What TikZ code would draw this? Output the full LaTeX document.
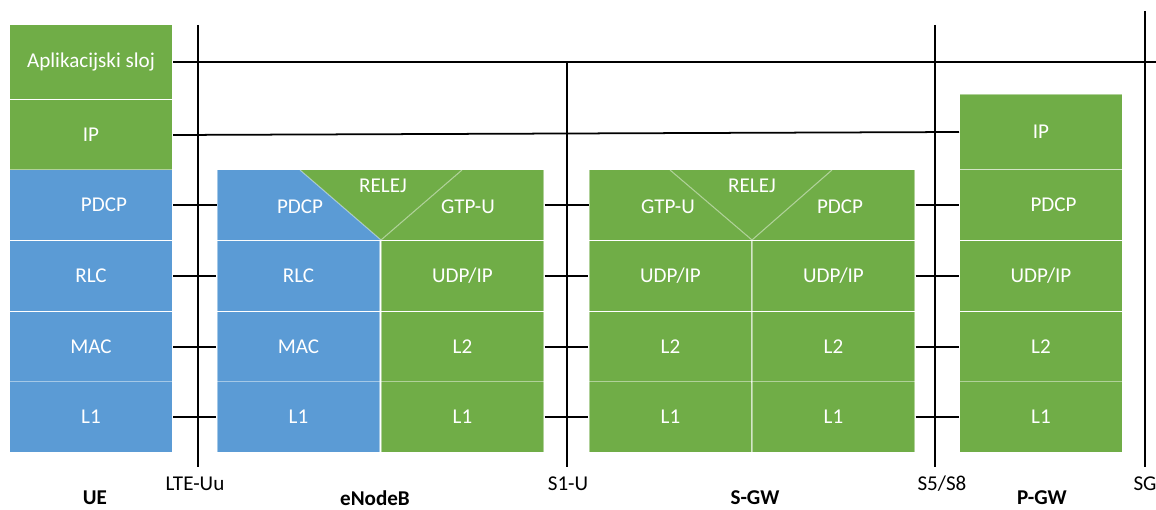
\documentclass[tikz,border=0pt]{standalone}
\usepackage{fontspec}
\setmainfont{Carlito}
\usepackage{tikz}
\usetikzlibrary{calc,positioning}

\definecolor{lteblue}{RGB}{91,155,213}
\definecolor{ltegreen}{RGB}{112,173,71}

\begin{document}
\begin{tikzpicture}[
    x=0.02cm, y=-0.02cm,
    font=\fontsize{12}{14}\selectfont,
    cell/.style={rectangle, minimum width=3.26cm, minimum height=1.41cm,
                 inner sep=0pt, text=white, draw=white, draw opacity=0.45,
                 line width=0.6pt},
    ueCell/.style={cell, fill=lteblue},
    gwCell/.style={cell, fill=ltegreen},
    cellEdge/.style={draw=white, draw opacity=0.45, line width=0.6pt},
    cellText/.style={text=white, inner sep=0pt},
    link/.style={draw=black, line width=1pt},
    ifLine/.style={draw=black, line width=1pt},
    ifLabel/.style={text=black, inner sep=0pt},
    boxLabel/.style={text=black, inner sep=0pt, font=\fontsize{12}{14}\selectfont\bfseries},
  ]

\useasboundingbox (0,0) rectangle (1156,510);

% ============================ UE ==========================================
\node[gwCell, minimum height=1.5cm] (ue-app) at (91,62) {Aplikacijski sloj};
\node[gwCell] (ue-ip)   at (91,135) {IP};
\node[ueCell] (ue-pdcp) at (91,205) {\hspace{0.52cm}PDCP};
\node[ueCell] (ue-rlc)  at (91,276) {RLC};
\node[ueCell] (ue-mac)  at (91,347) {MAC};
\node[ueCell] (ue-l1)   at (91,417) {L1};

% ============================ eNodeB ======================================
% ---- top row: PDCP | relay wedge | GTP-U --------------------------------
\fill[ltegreen] (217,170) rectangle (544,240);
\fill[lteblue] (217,170) -- (300,170) -- (381,240) -- (217,240) -- cycle;
\draw[cellEdge] (300,170) -- (381,240) -- (462,170);
\node[cell, minimum width=6.54cm] (enb-top) at (380.5,205) {};
\node[cellText] (enb-pdcp)  at (300,207) {PDCP};
\node[cellText] (enb-relej) at (383,186) {RELEJ};
\node[cellText] (enb-gtpu)  at (468,207) {GTP-U};

% ---- lower rows ---------------------------------------------------------
\node[ueCell] (enb-rlc) at (298.5,276) {RLC};
\node[ueCell] (enb-mac) at (298.5,347) {MAC};
\node[ueCell] (enb-l1a) at (298.5,417) {L1};
\node[gwCell] (enb-udp) at (462.5,276) {UDP/IP};
\node[gwCell] (enb-l2)  at (462.5,347) {L2};
\node[gwCell] (enb-l1b) at (462.5,417) {L1};

% ============================ S-GW ========================================
% ---- top row: GTP-U | relay wedge | PDCP --------------------------------
\fill[ltegreen] (589,170) rectangle (915,240);
\draw[cellEdge] (670,170) -- (752,240) -- (832,170);
\node[cell, minimum width=6.52cm] (sgw-top) at (752,205) {};
\node[cellText] (sgw-gtpu)  at (668,207) {GTP-U};
\node[cellText] (sgw-relej) at (752,186) {RELEJ};
\node[cellText] (sgw-pdcp)  at (840,207) {PDCP};

% ---- lower rows ---------------------------------------------------------
\node[gwCell] (sgw-udpa) at (670.5,276) {UDP/IP};
\node[gwCell] (sgw-l2a)  at (670.5,347) {L2};
\node[gwCell] (sgw-l1a)  at (670.5,417) {L1};
\node[gwCell] (sgw-udpb) at (833.5,276) {UDP/IP};
\node[gwCell] (sgw-l2b)  at (833.5,347) {L2};
\node[gwCell] (sgw-l1b)  at (833.5,417) {L1};

% ============================ P-GW ========================================
\node[gwCell, minimum height=1.52cm] (pgw-ip) at (1041,132) {IP};
\node[gwCell] (pgw-pdcp) at (1041,205) {\hspace{0.5cm}PDCP};
\node[gwCell] (pgw-udp)  at (1041,276) {UDP/IP};
\node[gwCell] (pgw-l2)   at (1041,347) {L2};
\node[gwCell] (pgw-l1)   at (1041,417) {L1};

% ============================ peer links ==================================
\coordinate (app-end) at (1156,62);
\draw[link] (ue-app.east) -- (app-end);
\draw[link] (ue-ip.east) -- (pgw-ip.west);

\draw[link] (ue-pdcp.east) -- (enb-top.west);
\draw[link] (ue-rlc.east)  -- (enb-rlc.west);
\draw[link] (ue-mac.east)  -- (enb-mac.west);
\draw[link] (ue-l1.east)   -- (enb-l1a.west);

\draw[link] (enb-top.east) -- (sgw-top.west);
\draw[link] (enb-udp.east) -- (sgw-udpa.west);
\draw[link] (enb-l2.east)  -- (sgw-l2a.west);
\draw[link] (enb-l1b.east) -- (sgw-l1a.west);

\draw[link] (sgw-top.east)  -- (pgw-pdcp.west);
\draw[link] (sgw-udpb.east) -- (pgw-udp.west);
\draw[link] (sgw-l2b.east)  -- (pgw-l2.west);
\draw[link] (sgw-l1b.east)  -- (pgw-l1.west);

% ============================ interfaces ==================================
\coordinate (uu-top) at (198,25);   \coordinate (uu-bot) at (198,467);
\coordinate (s1-top) at (567,62);   \coordinate (s1-bot) at (567,467);
\coordinate (s5-top) at (935,25);   \coordinate (s5-bot) at (935,467);
\coordinate (sg-top) at (1145,11);  \coordinate (sg-bot) at (1145,467);
\draw[ifLine] (uu-top) -- (uu-bot);
\draw[ifLine] (s1-top) -- (s1-bot);
\draw[ifLine] (s5-top) -- (s5-bot);
\draw[ifLine] (sg-top) -- (sg-bot);

\node[ifLabel] (uu-lbl) at (195,484)  {LTE-Uu};
\node[ifLabel] (s1-lbl) at (568,484)  {S1-U};
\node[ifLabel] (s5-lbl) at (942,484)  {S5/S8};
\node[ifLabel] (sg-lbl) at (1145,484) {SG};

% ---- element names ------------------------------------------------------
\node[boxLabel] (ue-lbl)  at (95,498)   {UE};
\node[boxLabel] (enb-lbl) at (375,498)  {eNodeB};
\node[boxLabel] (sgw-lbl) at (755,498)  {S-GW};
\node[boxLabel] (pgw-lbl) at (1042,498) {P-GW};

\end{tikzpicture}
\end{document}
